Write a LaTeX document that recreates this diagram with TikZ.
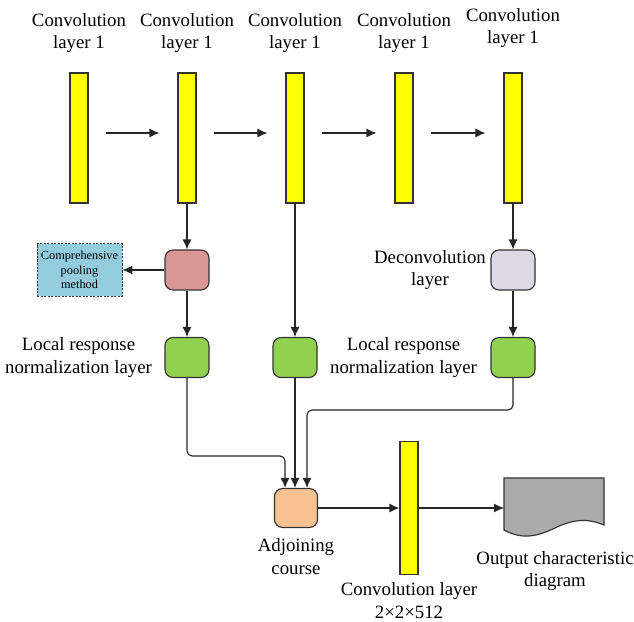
\documentclass[tikz,border=0pt]{standalone}
\usepackage{fontspec}
\setmainfont{Liberation Serif}
\usepackage{tikz}
\usetikzlibrary{positioning, arrows.meta}
\usepackage{xcolor}
\definecolor{barfill}{HTML}{FFFF00}
\definecolor{poolfill}{HTML}{D99694}
\definecolor{lrnfill}{HTML}{92D050}
\definecolor{deconvfill}{HTML}{DCD8E6}
\definecolor{adjfill}{HTML}{FAC191}
\definecolor{methodfill}{HTML}{93CDDD}
\definecolor{docfill}{HTML}{ABABAB}
\tikzstyle{bar} = [rectangle, draw=black!80, fill=barfill, minimum width=0.36cm, minimum height=2.6cm, inner sep=0pt]
\tikzstyle{block} = [rectangle, rounded corners=0.16cm, draw=black!80, minimum width=0.88cm, minimum height=0.8cm, inner sep=0pt]
\tikzstyle{lbl} = [align=center, inner sep=0pt, font=\fontsize{10.7pt}{12.8pt}\selectfont]
\tikzstyle{arrow} = [draw=black!85, ->, >={Latex[length=2mm, width=1.8mm]}]
\begin{document}
\begin{tikzpicture}[x=0.02cm, y=-0.02cm, line width=0.65pt]
	\useasboundingbox (0,0) rectangle (634,621);
	%Top convolution layers
	\node[bar] (c1) at (79,138) {};
	\node[bar] (c2) at (187,138) {};
	\node[bar] (c3) at (295,138) {};
	\node[bar] (c4) at (404,138) {};
	\node[bar] (c5) at (513,138) {};
	\node[lbl] (t1) at (79,33) {Convolution\\layer 1};
	\node[lbl] (t2) at (187,33) {Convolution\\layer 1};
	\node[lbl] (t3) at (295,33) {Convolution\\layer 1};
	\node[lbl] (t4) at (404,33) {Convolution\\layer 1};
	\node[lbl] (t5) at (513,28) {Convolution\\layer 1};
	\foreach \a/\b in {c1/c2, c2/c3, c3/c4, c4/c5}
		\draw[arrow, shorten <=0.34cm, shorten >=0.36cm] ([yshift=0.1cm]\a.east) -- ([yshift=0.1cm]\b.west);

	%Pooling branch
	\node[block, fill=poolfill] (pool) at (187,270) {};
	\node[rectangle, draw=black!80, line width=0.5pt, dash pattern=on 1.2pt off 0.8pt, fill=methodfill, minimum width=1.7cm, minimum height=1.06cm, align=center, inner sep=0pt, font=\fontsize{7pt}{8.2pt}\selectfont] (method) at (79.5,270) {Comprehensive\\pooling\\method};
	\draw[arrow] (c2) -- (pool);
	\draw[arrow] (pool) -- (method);

	%Local response normalization
	\node[block, fill=lrnfill] (g1) at (187,357.5) {};
	\node[block, fill=lrnfill] (g2) at (295,357.5) {};
	\node[block, fill=lrnfill] (g3) at (513,357.5) {};
	\node[lbl, left=0.24cm of g1] (l1) {Local response\\normalization layer};
	\node[lbl, left=0.26cm of g3] (l3) {Local response\\normalization layer};
	\draw[arrow] (pool) -- (g1);
	\draw[arrow] (c3) -- (g2);

	%Deconvolution
	\node[block, fill=deconvfill] (deconv) at (513,270) {};
	\node[lbl, left=0.08cm of deconv] (ld) {Deconvolution\\layer};
	\draw[arrow] (c5) -- (deconv);
	\draw[arrow] (deconv) -- (g3);

	%Adjoining course
	\node[block, fill=adjfill, minimum width=0.86cm, minimum height=0.78cm] (adj) at (296,508) {};
	\node[lbl, below=0.2cm of adj] (la) {Adjoining\\course};
	\draw[arrow, rounded corners=0.1cm] (g1) |- ([xshift=-0.22cm, yshift=0.64cm]adj.north) -- ([xshift=-0.22cm]adj.north);
	\draw[arrow] (g2) -- (g2 |- adj.north);
	\draw[arrow, rounded corners=0.1cm] (g3) |- ([xshift=0.22cm, yshift=1.56cm]adj.north) -- ([xshift=0.22cm]adj.north);

	%Final convolution layer
	\node[bar, minimum height=2.66cm] (c6) at (409,508) {};
	\node[lbl, below=0.14cm of c6] (l6) {Convolution layer\\2×2×512};
	\draw[arrow] (adj) -- (c6);

	%Output diagram
	\draw[draw=black!80, fill=docfill] (504,478) -- (604,478) -- (604,525) .. controls (590,519) and (575,518) .. (555,528) .. controls (540,535) and (524,541) .. (504,530) -- cycle;
	\coordinate (doc) at (504,508);
	\node[lbl] (lo) at (555,571) {Output characteristic\\diagram};
	\draw[arrow] (c6) -- (doc);
\end{tikzpicture}
\end{document}
